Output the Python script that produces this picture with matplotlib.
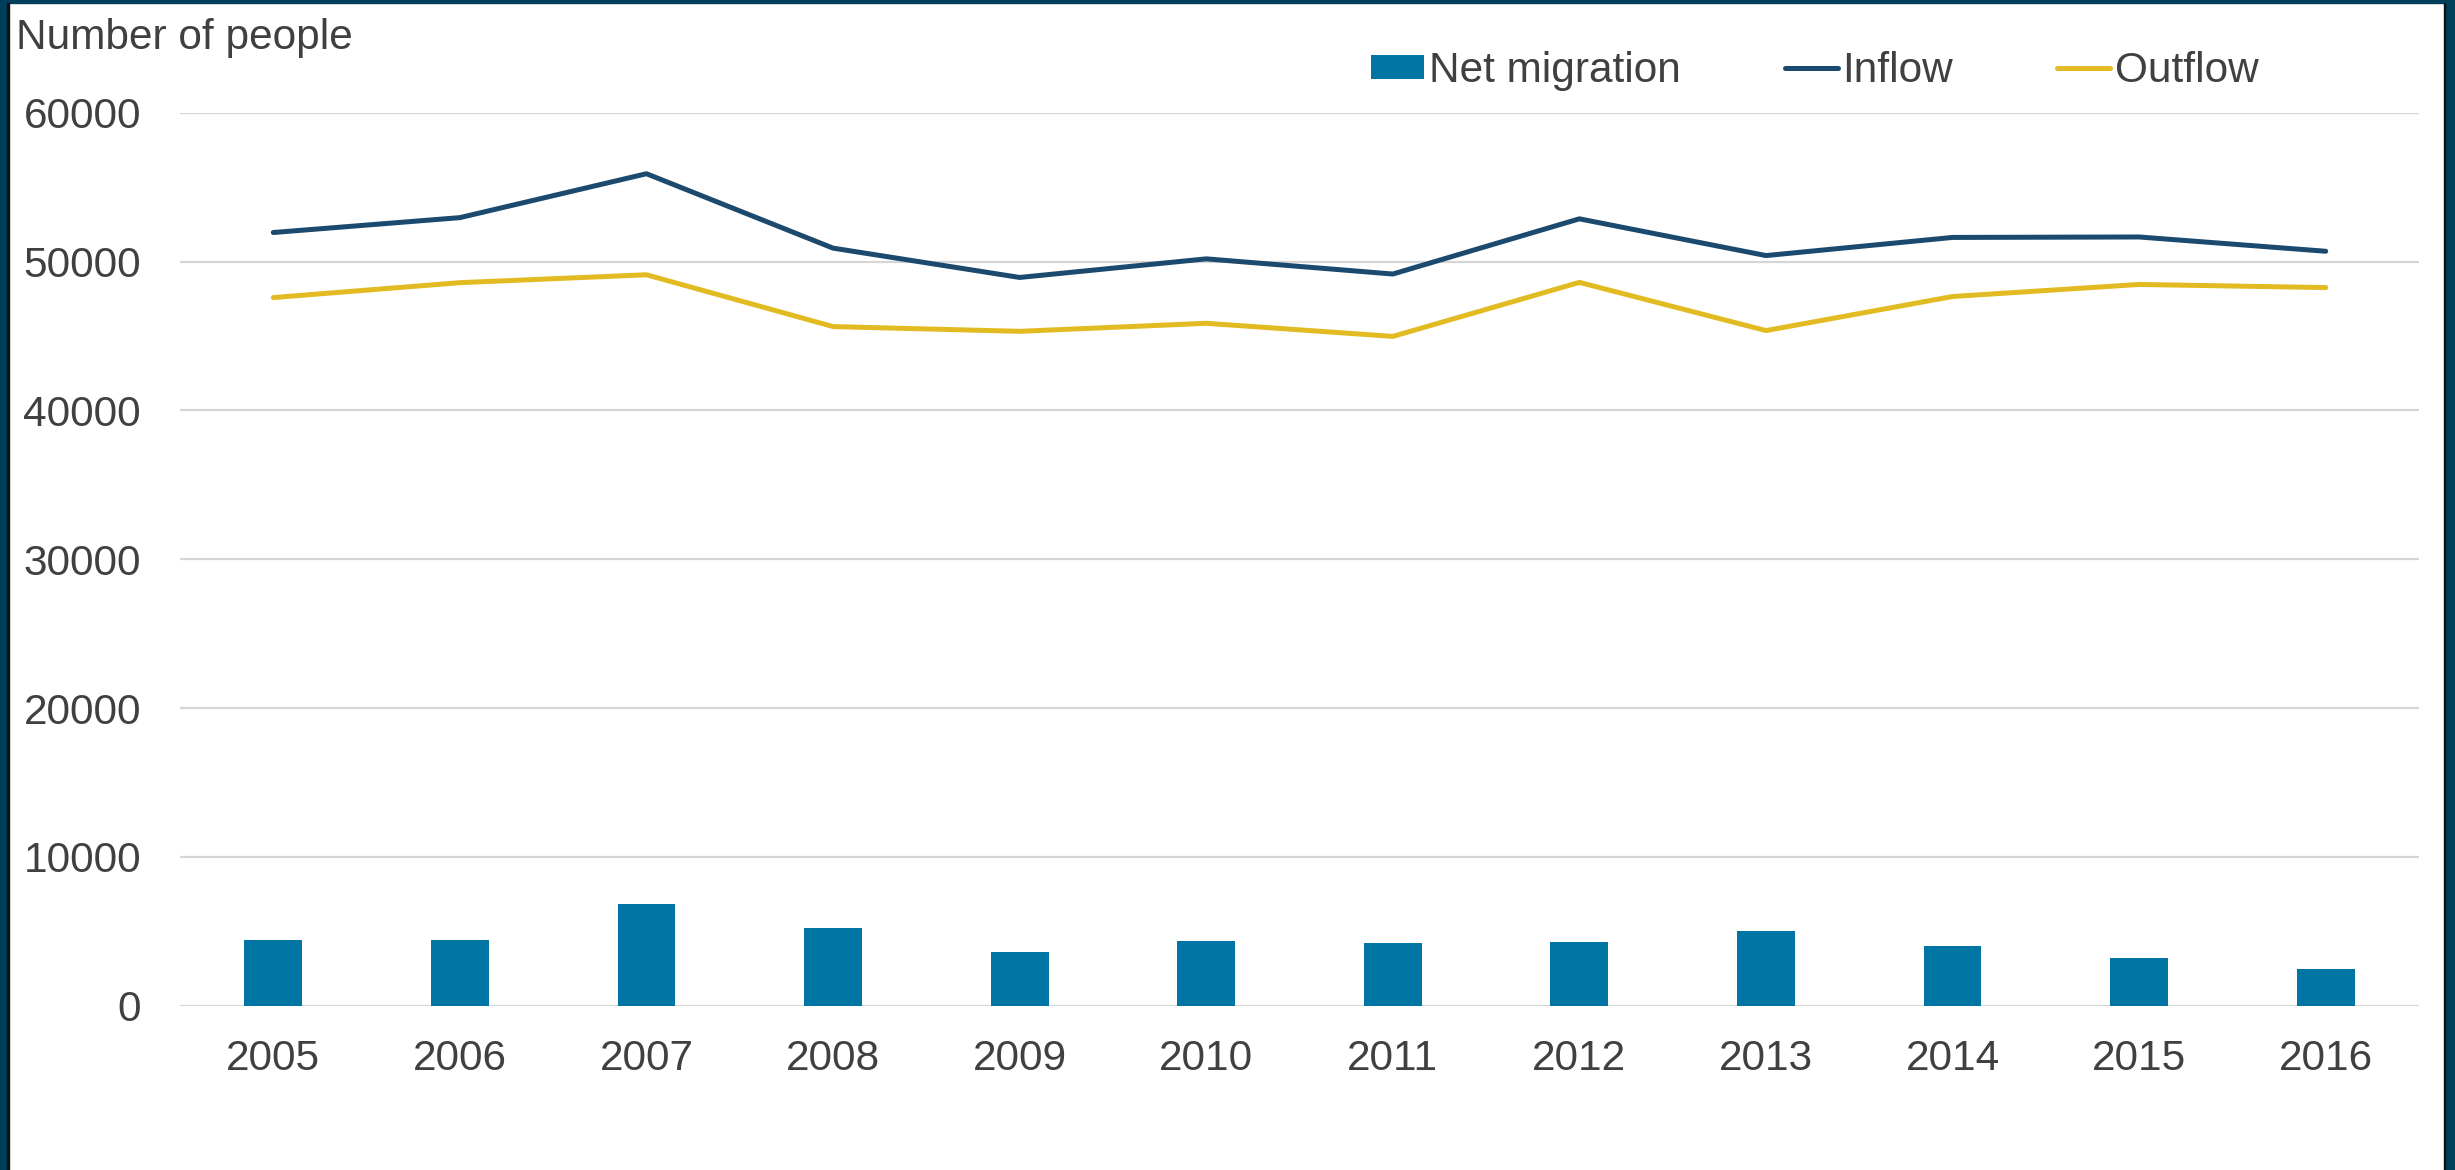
"""Net migration with inflow and outflow, 2005-2016."""
import numpy as np
import matplotlib
matplotlib.use("Agg")
import matplotlib.pyplot as plt
from matplotlib.patches import Rectangle

years = ["2005", "2006", "2007", "2008", "2009", "2010",
         "2011", "2012", "2013", "2014", "2015", "2016"]
inflow = [51950, 52950, 55900, 50900, 48930, 50180,
          49160, 52870, 50400, 51620, 51650, 50690]
outflow = [47580, 48580, 49110, 45630, 45310, 45850,
           44970, 48600, 45360, 47650, 48460, 48250]
net_migration = [4420, 4400, 6830, 5250, 3640, 4330,
                 4200, 4280, 5050, 3980, 3190, 2440]

y_ticks = [0, 10000, 20000, 30000, 40000, 50000, 60000]

TEXT = "#404040"
BAR = "#0075A3"
INFLOW = "#1B4A6E"
OUTFLOW = "#E2BB22"
BORDER = "#003F5C"

plt.rcParams["font.family"] = ["Liberation Sans", "DejaVu Sans"]

W, H = 2455, 1170
fig = plt.figure(figsize=(W / 100, H / 100), dpi=100)
ax = fig.add_axes([180 / W, 1 - 1005.7 / H, (2419 - 180) / W, (1005.7 - 112.7) / H])

x = np.arange(len(years))
bars = ax.bar(x, net_migration, width=0.31, color=BAR, label="Net migration", zorder=2)
l_in, = ax.plot(x, inflow, color=INFLOW, lw=3.6, solid_capstyle="round",
                solid_joinstyle="round", label="Inflow", zorder=3)
l_out, = ax.plot(x, outflow, color=OUTFLOW, lw=3.6, solid_capstyle="round",
                 solid_joinstyle="round", label="Outflow", zorder=3)

ax.set_xlim(-0.5, len(years) - 0.5)
ax.set_ylim(0, 60000)
ax.set_yticks(y_ticks)
ax.set_yticklabels([str(v) for v in y_ticks])
ax.set_xticks(x)
ax.set_xticklabels(years)
ax.tick_params(axis="both", length=0, labelsize=30.5, colors=TEXT)
ax.tick_params(axis="y", pad=28)
ax.tick_params(axis="x", pad=24)
ax.yaxis.grid(True, color="#D6D6D6", lw=1.6, zorder=0)
ax.set_axisbelow(True)
for s in ax.spines.values():
    s.set_visible(False)

fig.text(16 / W, 1 - 49 / H, "Number of people", fontsize=30.5, color=TEXT,
         ha="left", va="baseline")

leg = fig.legend([bars, l_in, l_out], ["Net migration", "Inflow", "Outflow"],
                 loc="center left", ncol=3,
                 bbox_to_anchor=(1371 / W, 1 - 71 / H), frameon=False,
                 fontsize=30.5, handlelength=1.25, handleheight=0.5,
                 handletextpad=0.12, columnspacing=2.45, borderaxespad=0,
                 borderpad=0)
for t in leg.get_texts():
    t.set_color(TEXT)

# dark frame around the figure (no bottom edge)
fig.patches.append(Rectangle((0, 0), 7 / W, 1, transform=fig.transFigure,
                             color=BORDER, zorder=10))
fig.patches.append(Rectangle((1 - 10 / W, 0), 10 / W, 1, transform=fig.transFigure,
                             color=BORDER, zorder=10))
fig.patches.append(Rectangle((0, 1 - 3 / H), 1, 3 / H, transform=fig.transFigure,
                             color=BORDER, zorder=10))
fig.patches.append(Rectangle((7 / W, 0), 1.5 / W, 1 - 3 / H, transform=fig.transFigure,
                             color="#111111", zorder=10))
fig.patches.append(Rectangle((1 - 11.5 / W, 0), 1.5 / W, 1 - 3 / H, transform=fig.transFigure,
                             color="#111111", zorder=10))

fig.savefig("out.png", dpi=100, facecolor="white")
